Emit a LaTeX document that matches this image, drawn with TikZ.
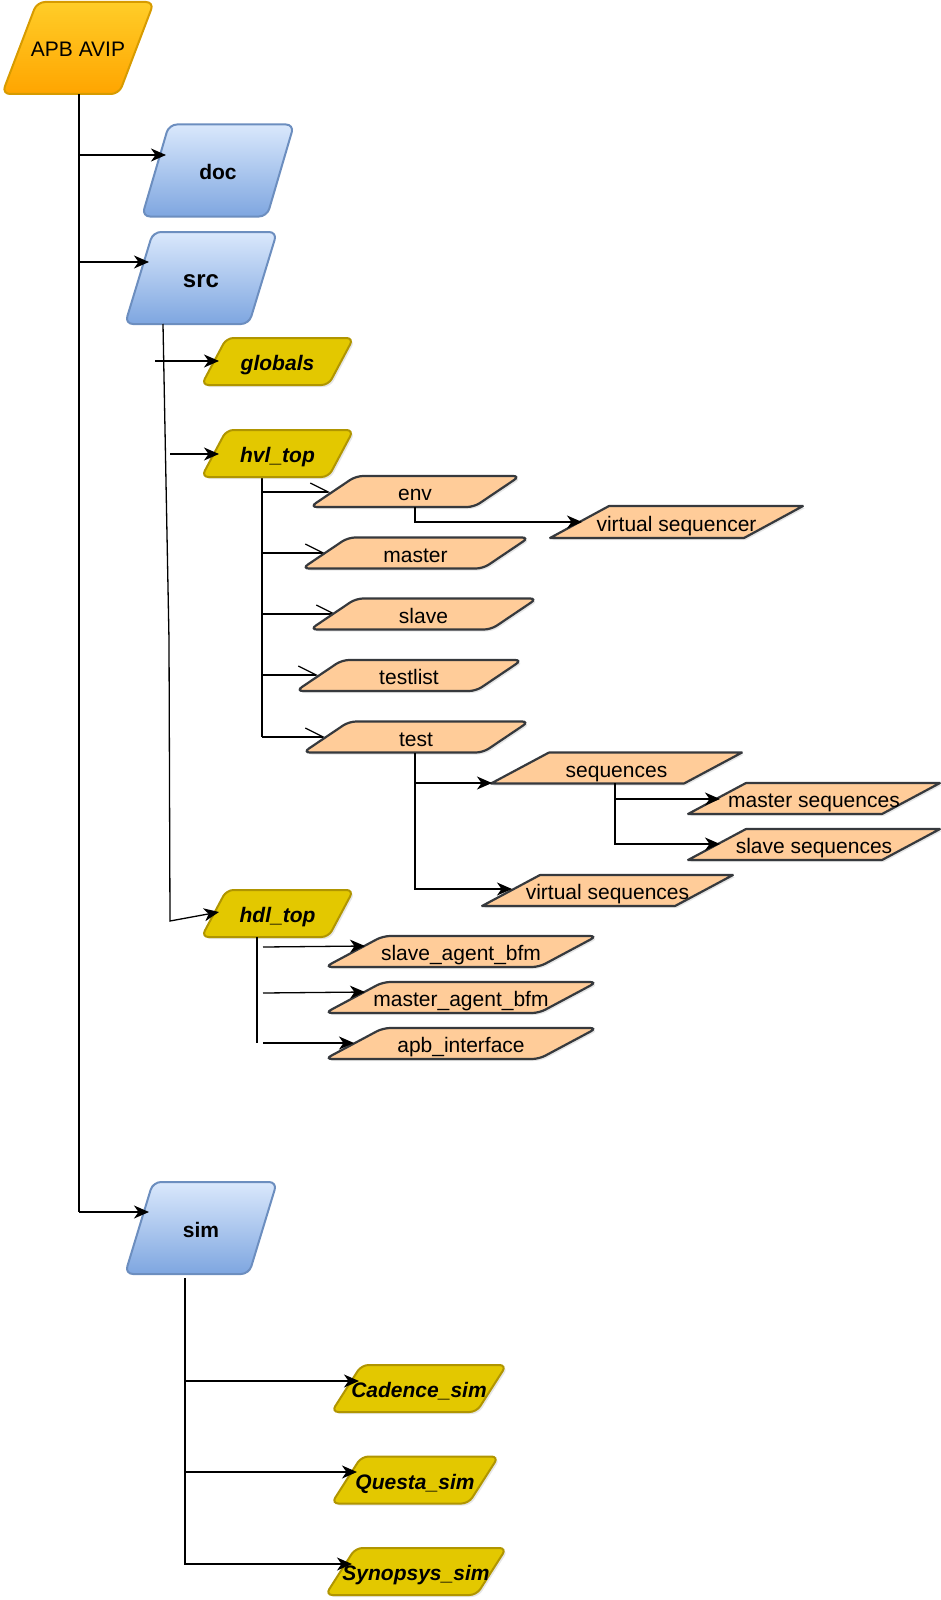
\documentclass[tikz,border=0pt]{standalone}
\usepackage{fontspec}
\setmainfont{Liberation Sans}
\usetikzlibrary{arrows.meta,shadows}
\definecolor{bluetop}{HTML}{DAE8FC}
\definecolor{bluebot}{HTML}{7EA6E0}
\definecolor{blueline}{HTML}{6C8EBF}
\definecolor{apbtop}{HTML}{FFCD28}
\definecolor{apbbot}{HTML}{FFA500}
\definecolor{apbline}{HTML}{D79B00}
\definecolor{ylwfill}{HTML}{E3C800}
\definecolor{ylwline}{HTML}{B09500}
\definecolor{orfill}{HTML}{FFCC99}
\definecolor{orline}{HTML}{36393D}
% #1 type, #2 name, #3 cx, #4 cy, #5 width, #6 height, #7 slant, #8 text
\newcommand{\pgram}[8]{%
  \path[#1 shape] ({#3-#5/2},{#4+#6/2}) -- ({#3+#5/2-#7},{#4+#6/2})
     -- ({#3+#5/2},{#4-#6/2}) -- ({#3-#5/2+#7},{#4-#6/2}) -- cycle;
  \node[#1 text] (#2) at (#3,#4) {#8};}
\begin{document}
\begin{tikzpicture}[x=1pt,y=-1pt,
  txt/.style={inner sep=0pt, text height=20pt, text depth=2pt, text=black,
    font=\fontsize{21}{25}\selectfont},
  shd/.style={drop shadow={opacity=0.2, shadow xshift=2pt, shadow yshift=-2pt}},
  apb shape/.style={top color=apbtop, bottom color=apbbot, draw=apbline,
    line width=2pt, rounded corners=8pt},
  apb text/.style={txt},
  blue shape/.style={top color=bluetop, bottom color=bluebot, draw=blueline,
    line width=2pt, rounded corners=8pt},
  blue text/.style={txt, font=\fontsize{21}{25}\selectfont\bfseries},
  bluebig shape/.style={blue shape},
  bluebig text/.style={txt, font=\fontsize{24}{28}\selectfont\bfseries},
  ylw shape/.style={fill=ylwfill, draw=ylwline, line width=2pt,
    rounded corners=7pt, shd},
  ylw text/.style={txt, font=\fontsize{21}{25}\selectfont\bfseries\itshape},
  or shape/.style={fill=orfill, draw=orline, line width=2.2pt,
    rounded corners=7pt, shd},
  or text/.style={txt},
  seq shape/.style={fill=orfill, draw=orline, line width=2.2pt,
    rounded corners=0.5pt, shd},
  seq text/.style={txt},
  conn/.style={line width=1.3pt, black},
  arr/.style={conn, -{Stealth[length=15pt,width=13pt,inset=4.5pt]}},
  barb/.style={conn, -{Straight Barb[harpoon,length=18pt,width=18pt]}}
]
\useasboundingbox (0,0) rectangle (941,1600);

% ---------- coordinates ----------
\coordinate (a0) at (79,94);
\coordinate (a3) at (79,1212);
\coordinate (doc-in) at (166,155);
\coordinate (src-in) at (149,262);
\coordinate (sim-in) at (149,1212);

\coordinate (s0) at (163,324);
\coordinate (s1) at (169,640);
\coordinate (s2) at (170,921);
\coordinate (hdl-in) at (219,912);
\coordinate (g0) at (155,361);
\coordinate (globals-in) at (219,361);
\coordinate (h0) at (170,454);
\coordinate (hvl-in) at (219,454);

\coordinate (v0) at (262,477);
\coordinate (v5) at (262,737);
\coordinate (env-in) at (331,492);
\coordinate (master-in) at (326,553);
\coordinate (slave-in) at (337,614);
\coordinate (testlist-in) at (319,675);
\coordinate (test-in) at (326,737);

\coordinate (e0) at (415,507);
\coordinate (vseqr-in) at (582,522);
\coordinate (t0) at (415,753);
\coordinate (seqs-in) at (492,783);
\coordinate (vseqs-in) at (512,889);
\coordinate (q0) at (615,783);
\coordinate (mseq-in) at (720,799);
\coordinate (sseq-in) at (720,844);

\coordinate (d0) at (257,937);
\coordinate (d3) at (257,1043);
\coordinate (d1s) at (263,947);
\coordinate (sbfm-in) at (365,946);
\coordinate (d2s) at (263,993);
\coordinate (mbfm-in) at (365,992);
\coordinate (d3s) at (263,1043);
\coordinate (apbif-in) at (354,1043);

\coordinate (m0) at (185,1278);
\coordinate (cad-in) at (359,1381);
\coordinate (questa-in) at (357,1472);
\coordinate (syn-in) at (352,1564);

% ---------- open-barb connectors (under the boxes) ----------
\draw[conn] (v0) -- (v5);
\draw[barb] (v0 |- env-in) -- (env-in);
\draw[barb] (v0 |- master-in) -- (master-in);
\draw[barb] (v0 |- slave-in) -- (slave-in);
\draw[barb] (v0 |- testlist-in) -- (testlist-in);
\draw[barb] (v5) -- (test-in);

% ---------- boxes ----------
\pgram{apb}{apb}{78}{48}{152}{92}{35}{APB AVIP}
\pgram{blue}{doc}{218}{170.5}{152}{92}{27}{doc}
\pgram{bluebig}{src}{201}{278}{152}{92}{28}{src}
\pgram{blue}{sim}{201}{1228}{152}{92}{28}{sim}

\pgram{ylw}{globals}{277.5}{361.5}{152}{47}{25}{globals}
\pgram{ylw}{hvl}{277.5}{453.5}{152}{47}{25}{hvl\_top}
\pgram{ylw}{hdl}{277.5}{913.5}{152}{47}{25}{hdl\_top}

\pgram{or}{env}{415}{491.5}{210}{31}{46}{env}
\pgram{or}{master}{415.5}{553}{227}{31}{46}{master}
\pgram{or}{slave}{423.5}{614}{227}{31}{46}{slave}
\pgram{or}{testlist}{409}{675.5}{226}{31}{46}{testlist}
\pgram{or}{test}{416}{737}{226}{31}{46}{test}

\pgram{seq}{vseqr}{676.5}{522}{253}{32}{59}{virtual sequencer}
\pgram{seq}{seqs}{616.5}{768}{251}{31}{58}{sequences}
\pgram{seq}{mseq}{814}{798.5}{252}{31}{58}{master sequences}
\pgram{seq}{sseq}{814}{844.5}{252}{31}{58}{slave sequences}
\pgram{seq}{vseqs}{607.5}{890.5}{251}{31}{58}{virtual sequences}

\pgram{or}{sbfm}{461}{951.5}{272}{31}{58}{slave\_agent\_bfm}
\pgram{or}{mbfm}{461}{997.5}{272}{31}{58}{master\_agent\_bfm}
\pgram{or}{apbif}{461}{1043.5}{272}{31}{58}{apb\_interface}

\pgram{ylw}{cad}{419}{1388.5}{175}{47}{30}{Cadence\_sim}
\pgram{ylw}{questa}{415}{1480}{167}{47}{30}{Questa\_sim}
\pgram{ylw}{syn}{416}{1571.5}{181}{47}{30}{Synopsys\_sim}

% ---------- connectors ----------
\draw[conn] (a0) -- (a3);
\draw[arr] (a0 |- doc-in) -- (doc-in);
\draw[arr] (a0 |- src-in) -- (src-in);
\draw[arr] (a3) -- (sim-in);

\draw[arr] (s0) -- (s1) -- (s2) -- (hdl-in);
\draw[arr] (g0) -- (globals-in);
\draw[arr] (h0) -- (hvl-in);

\draw[arr] (e0) |- (vseqr-in);
\draw[arr] (t0) |- (seqs-in);
\draw[arr] (t0) |- (vseqs-in);
\draw[arr] (q0) |- (mseq-in);
\draw[arr] (q0) |- (sseq-in);

\draw[conn] (d0) -- (d3);
\draw[arr] (d1s) -- (sbfm-in);
\draw[arr] (d2s) -- (mbfm-in);
\draw[arr] (d3s) -- (apbif-in);

\draw[arr] (m0) |- (cad-in);
\draw[arr] (m0) |- (questa-in);
\draw[arr] (m0) |- (syn-in);
\end{tikzpicture}
\end{document}
